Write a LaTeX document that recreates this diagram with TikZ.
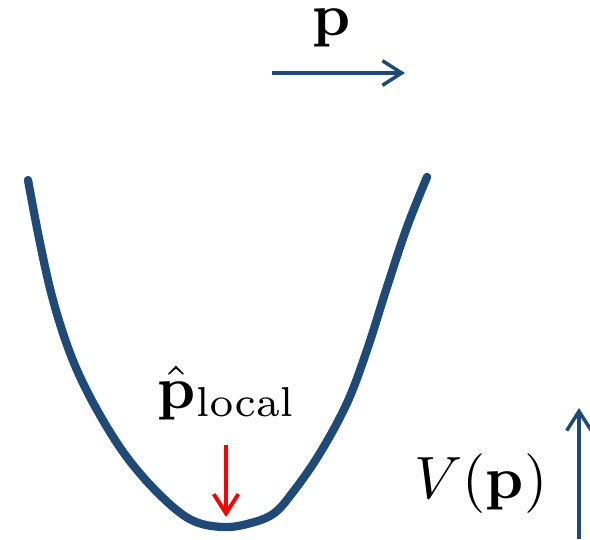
\documentclass[tikz,border=0pt]{standalone}
\usepackage{amsmath}
\usepackage{tikz}
\usetikzlibrary{arrows.meta, positioning}
\definecolor{wellblue}{HTML}{1f4a78}
\definecolor{minred}{HTML}{ff0000}

\begin{document}
\begin{tikzpicture}[
    x=0.02cm, y=-0.02cm,
    well/.style={draw=wellblue, line width=4.7pt, line cap=round, line join=round},
    axisarrow/.style={-{Straight Barb[length=11pt, width=14pt, line width=2pt]}, draw=wellblue, line width=2pt},
    minarrow/.style={-{Straight Barb[length=11pt, width=14pt, line width=2.2pt]}, draw=minred, line width=2.2pt},
    label/.style={scale=3.4, inner sep=0pt, anchor=base}
]
\useasboundingbox (0,0) rectangle (590,539);

% potential well
\draw[well] plot[smooth, tension=0.6] coordinates {
    (28,180) (40,243) (53,300) (70,353) (90,397) (117,443) (143,477)
    (173,507) (196,522) (223,527) (247,524) (273,514) (293,492)
    (320,453) (347,403) (367,350) (387,287) (407,227) (427,177)};

% direction of p
\coordinate (pstart) at (272,73);
\coordinate (pend) at (405,73);
\node[label] (plabel) at (332,35) {$\mathbf{p}$};
\draw[axisarrow] (pstart) -- (pend);

% local minimum
\node[label] (plocal) at (227,408) {$\hat{\mathbf{p}}_{\mathrm{local}}$};
\coordinate (mintop) at (226,445);
\coordinate (minpt) at (226,517);
\draw[minarrow] (mintop) -- (minpt);

% energy axis
\node[label] (vlabel) at (481,498) {$V(\mathbf{p})$};
\coordinate (vstart) at (579,539);
\coordinate (vend) at (579,408);
\draw[axisarrow] (vstart) -- (vend);

\end{tikzpicture}
\end{document}
